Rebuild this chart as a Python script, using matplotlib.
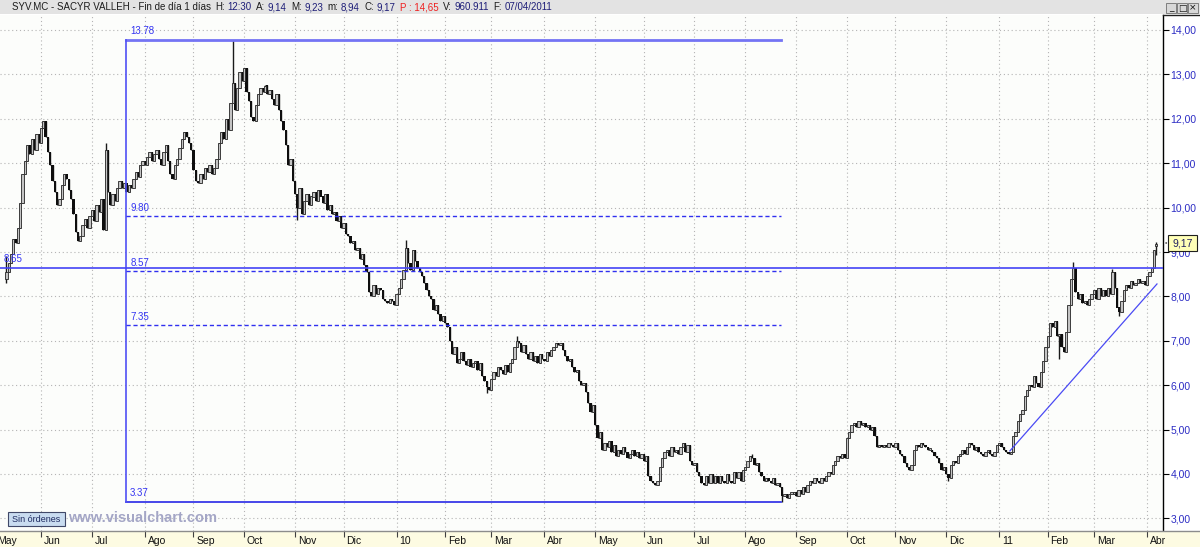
"""
SYV.MC (Sacyr Vallehermoso) daily candles, May 2009 - Apr 2011
Visual Chart style screen: Fibonacci box, support line and trend line
"""

import numpy as np
import pandas as pd
import matplotlib
matplotlib.use("Agg")
import matplotlib.pyplot as plt
from matplotlib.patches import Rectangle
from matplotlib.lines import Line2D

# ---- data -------------------------------------------------------------
START_DATE = "2009-05-11"
FIRST_OPEN = 8.40
LAST_OPEN = 9.14

CLOSE = [
    8.55, 8.75, 8.95, 9.30, 9.20, 9.55, 10.10, 10.75, 11.05, 11.40,
    11.20, 11.55, 11.30, 11.65, 11.45, 11.80, 11.95, 11.60, 11.25, 10.95,
    10.60, 10.35, 10.05, 10.20, 10.50, 10.75, 10.65, 10.40, 10.20, 9.85,
    9.45, 9.25, 9.35, 9.60, 9.75, 9.55, 9.80, 9.95, 9.70, 10.05,
    9.90, 10.20, 9.50, 11.30, 10.35, 10.05, 10.30, 10.15, 10.45, 10.60,
    10.45, 10.55, 10.35, 10.50, 10.45, 10.65, 10.80, 10.70, 10.95, 11.05,
    10.95, 11.15, 11.25, 11.05, 11.20, 11.30, 11.10, 10.95, 11.25, 11.40,
    11.05, 10.75, 10.65, 10.95, 11.10, 11.35, 11.55, 11.70, 11.60, 11.45,
    11.30, 10.85, 10.60, 10.55, 10.75, 10.65, 10.90, 10.80, 10.95, 10.75,
    10.90, 11.10, 11.45, 11.70, 11.55, 12.00, 11.75, 12.35, 12.80, 12.20,
    12.70, 13.05, 12.85, 13.15, 12.60, 12.40, 12.05, 11.95, 12.30, 12.55,
    12.70, 12.60, 12.75, 12.55, 12.65, 12.45, 12.30, 12.55, 12.20, 11.95,
    11.75, 11.40, 10.95, 11.10, 10.60, 10.30, 10.00, 10.45, 9.85, 10.15,
    10.30, 10.05, 10.25, 10.35, 10.15, 10.40, 10.25, 10.10, 10.30, 9.95,
    10.05, 9.85, 9.90, 9.70, 9.80, 9.55, 9.65, 9.40, 9.35, 9.20,
    9.25, 9.05, 9.10, 8.85, 8.95, 8.70, 8.55, 8.10, 8.00, 8.25,
    8.05, 8.20, 8.15, 7.95, 7.90, 7.85, 7.95, 7.90, 7.80, 8.05,
    8.20, 8.40, 8.60, 9.10, 8.75, 8.60, 9.05, 8.80, 8.65, 8.55,
    8.45, 8.30, 8.15, 8.00, 7.95, 7.70, 7.80, 7.60, 7.45, 7.55,
    7.40, 7.30, 7.00, 6.70, 6.85, 6.50, 6.60, 6.75, 6.55, 6.45,
    6.60, 6.40, 6.50, 6.55, 6.35, 6.50, 6.20, 6.10, 5.95, 5.90,
    6.15, 6.30, 6.20, 6.40, 6.35, 6.25, 6.45, 6.30, 6.50, 6.60,
    6.85, 7.00, 6.95, 6.75, 6.90, 6.70, 6.60, 6.75, 6.55, 6.65,
    6.50, 6.70, 6.60, 6.55, 6.75, 6.65, 6.80, 6.85, 6.95, 6.90,
    6.95, 6.80, 6.65, 6.55, 6.60, 6.40, 6.30, 6.35, 6.10, 6.00,
    6.05, 5.85, 5.60, 5.40, 5.55, 5.10, 4.80, 4.95, 4.55, 4.70,
    4.60, 4.75, 4.50, 4.65, 4.40, 4.55, 4.45, 4.60, 4.50, 4.35,
    4.45, 4.55, 4.40, 4.50, 4.35, 4.45, 4.30, 4.40, 3.95, 3.85,
    3.80, 3.75, 3.85, 4.15, 4.35, 4.50, 4.55, 4.40, 4.60, 4.50,
    4.55, 4.45, 4.60, 4.70, 4.50, 4.65, 4.30, 4.20, 4.25, 4.05,
    3.95, 3.80, 3.75, 3.95, 3.80, 4.00, 3.80, 3.95, 3.80, 3.95,
    3.85, 3.80, 4.00, 3.85, 3.80, 4.05, 3.90, 4.05, 3.85, 4.10,
    4.15, 4.30, 4.40, 4.35, 4.20, 4.25, 4.05, 3.95, 3.85, 3.90,
    3.85, 3.80, 3.90, 3.75, 3.80, 3.70, 3.50, 3.55, 3.45, 3.55,
    3.55, 3.60, 3.50, 3.65, 3.55, 3.70, 3.60, 3.75, 3.85, 3.80,
    3.90, 3.85, 3.80, 3.90, 3.85, 3.95, 4.05, 4.00, 4.20, 4.30,
    4.40, 4.35, 4.45, 4.35, 4.80, 4.95, 5.10, 5.15, 5.05, 5.20,
    5.10, 5.15, 5.05, 5.10, 5.00, 5.05, 4.85, 4.60, 4.65, 4.60,
    4.65, 4.60, 4.70, 4.65, 4.60, 4.70, 4.55, 4.45, 4.40, 4.25,
    4.15, 4.10, 4.20, 4.55, 4.65, 4.60, 4.70, 4.65, 4.60, 4.55,
    4.55, 4.50, 4.40, 4.35, 4.25, 4.10, 4.15, 4.00, 3.90, 4.20,
    4.30, 4.25, 4.40, 4.45, 4.55, 4.45, 4.60, 4.70, 4.65, 4.55,
    4.60, 4.50, 4.45, 4.40, 4.50, 4.55, 4.45, 4.40, 4.50, 4.65,
    4.70, 4.60, 4.55, 4.50, 4.45, 4.50, 4.85, 4.95, 5.20, 5.35,
    5.45, 5.75, 5.90, 6.00, 5.95, 6.20, 6.05, 5.95, 6.30, 6.55,
    6.85, 7.10, 7.40, 7.30, 7.45, 7.10, 7.15, 6.85, 6.75, 7.20,
    7.80, 8.40, 8.65, 8.10, 7.95, 8.05, 7.85, 7.90, 7.80, 7.95,
    8.05, 8.15, 7.95, 8.20, 8.00, 8.15, 8.00, 8.20, 8.05, 8.55,
    8.20, 7.75, 7.65, 7.90, 8.15, 8.25, 8.20, 8.35, 8.25, 8.30,
    8.40, 8.30, 8.35, 8.25, 8.45, 8.55, 8.65, 9.05, 9.17,
]

# long wicks (bar number, price)
WICK_HIGH_BAR = [0, 43, 98, 173, 221, 323, 462, 479, 498]
WICK_HIGH = [8.90, 11.45, 13.78, 9.28, 7.10, 4.45, 8.78, 8.62, 9.23]
WICK_LOW_BAR = [0, 126, 208, 336, 408, 456, 482, 498]
WICK_LOW = [8.30, 9.72, 5.82, 3.37, 3.85, 6.60, 7.55, 8.94]

MONTH_LABELS = ["Jun", "Jul", "Ago", "Sep", "Oct", "Nov", "Dic", "10", "Feb", "Mar", "Abr",
                "May", "Jun", "Jul", "Ago", "Sep", "Oct", "Nov", "Dic", "11", "Feb", "Mar", "Abr"]
PRICE_TICKS = [3, 4, 5, 6, 7, 8, 9, 10, 11, 12, 13, 14]

# drawing objects
FIB_BARS = [51.8, 335.5]
FIB_HIGH, FIB_LOW = 13.78, 3.37
FIB_LEVELS = [9.80, 8.57, 7.35]
SUPPORT = 8.65
TREND_BARS = [434.6, 498.3]
TREND_PRICES = [4.52, 8.28]

# header line: (text, kind) -> kind 0 label, 1 value, 2 red
HEADER = [("SYV.MC - SACYR VALLEH - Fin de día 1 días", 0),
          ("H:", 0), ("12:30", 1), ("A:", 0), ("9,14", 1), ("M:", 0), ("9,23", 1),
          ("m:", 0), ("8,94", 1), ("C:", 0), ("9,17", 1), ("P : 14,65", 2),
          ("V:", 0), ("960.911", 1), ("F:", 0), ("07/04/2011", 1)]
HEADER_COLORS = ["#1c1c1c", "#1e1e78", "#ee2020"]

# ---- layout (pixels) --------------------------------------------------
W, H = 1200, 547
PLOT_R, PLOT_T, PLOT_B = 1163, 15, 531
PX0, PX_BAR = 6.4, 2.309
Y14, PX_UNIT = 30.0, 44.4

BLUE = "#3434f2"
plt.rcParams["font.family"] = ["Liberation Sans", "DejaVu Sans"]


def fx(px):
    return px / W


def fy(py):
    return 1 - py / H


def bar_at(px):
    return (px - PX0) / PX_BAR


def val_at(py):
    return 14 - (py - Y14) / PX_UNIT


close = np.array(CLOSE)
n = len(close)
x = np.arange(n)
dates = pd.bdate_range(START_DATE, periods=n)
opens = np.r_[FIRST_OPEN, close[:-1]]
opens[-1] = LAST_OPEN
highs = np.maximum(opens, close)
lows = np.minimum(opens, close)
highs[WICK_HIGH_BAR] = WICK_HIGH
lows[WICK_LOW_BAR] = WICK_LOW

month = dates.to_period("M")
month_idx = np.where(month[1:] != month[:-1])[0] + 1

fig = plt.figure(figsize=(W / 100, H / 100), dpi=100)
fig.patch.set_facecolor("white")

# ---- main price panel -------------------------------------------------
ax = fig.add_axes([0, fy(PLOT_B), fx(PLOT_R), (PLOT_B - PLOT_T) / H])
ax.set_facecolor("#fcfdfb")
ax.set_xlim(bar_at(0), bar_at(PLOT_R))
ax.set_ylim(val_at(PLOT_B), val_at(PLOT_T))

ax.set_xticks(month_idx)
ax.set_yticks(PRICE_TICKS)
ax.set_yticklabels([f"{v},00" for v in PRICE_TICKS])
ax.grid(True, color="#b4b4b4", linestyle=(0, (1, 2.5)), linewidth=0.8)
ax.set_axisbelow(True)
ax.tick_params(axis="x", length=0, labelbottom=False)
ax.tick_params(axis="y", left=False, labelleft=False, right=True, labelright=True,
               length=4, width=0.8, pad=1.5, labelsize=7.5, labelcolor="#2c2cc4")
for side in ["top", "left", "bottom"]:
    ax.spines[side].set_visible(False)
ax.spines["right"].set_linewidth(1.0)

up = close >= opens
body_lo = np.minimum(opens, close)
body_h = np.maximum(np.abs(close - opens), 0.04)
ax.vlines(x, lows, highs, color="#1a1a1a", linewidth=1.0, zorder=2)
ax.bar(x[~up], body_h[~up], bottom=body_lo[~up], width=1.0, color="#0e0e0e",
       linewidth=0, zorder=3)
ax.bar(x[up], body_h[up], bottom=body_lo[up], width=1.0, facecolor="#c4c4c4",
       edgecolor="#262626", linewidth=0.6, zorder=3)

# fibonacci box
f0, f1 = FIB_BARS
ax.plot([f0, f1], [FIB_HIGH, FIB_HIGH], color="#7474f4", linewidth=2.0, zorder=4)
ax.plot([f0, f1], [FIB_LOW, FIB_LOW], color="#3838e8", linewidth=1.3, zorder=4)
ax.plot([f0, f0], [FIB_LOW, FIB_HIGH], color="#5050f4", linewidth=1.2, zorder=4)
for lvl in FIB_LEVELS:
    ax.plot([f0, f1], [lvl, lvl], color="#3030f0", linewidth=1.0,
            linestyle=(0, (3, 2)), zorder=4)
for lvl in [FIB_HIGH] + FIB_LEVELS + [FIB_LOW]:
    ax.annotate(f"{lvl:.2f}", (f0, lvl), xytext=(3, 2.5), textcoords="offset points",
                fontsize=7, color=BLUE, va="bottom", zorder=5)

ax.axhline(SUPPORT, color="#4444f6", linewidth=1.2, zorder=4)
ax.annotate(f"{SUPPORT:.2f}", (bar_at(4), SUPPORT), xytext=(0, 2.5),
            textcoords="offset points", fontsize=7, color=BLUE, va="bottom", zorder=5)
ax.plot(TREND_BARS, TREND_PRICES, color="#4a4af4", linewidth=0.9, zorder=4)

# ---- bottom month strip -------------------------------------------------
sx = fig.add_axes([0, 0, 1, (H - PLOT_B) / H])
sx.set_facecolor("#fdfbe2")
sx.set_xlim(bar_at(0), bar_at(W))
sx.set_ylim(0, 1)
sx.set_xticks([])
sx.set_yticks([])
for side in ["left", "right", "bottom"]:
    sx.spines[side].set_visible(False)
sx.spines["top"].set_color("#8c8c8c")
sx.spines["top"].set_linewidth(1.0)
sx.vlines(month_idx, 0.62, 1.0, color="#404040", linewidth=0.8)
for i, lab in zip(month_idx, MONTH_LABELS):
    sx.text(i + 1.2, 0.38, lab, fontsize=7.5, va="center", ha="left", color="#111111")
sx.text(bar_at(-3), 0.38, "May", fontsize=7.5, va="center", ha="left",
        color="#111111", clip_on=True)

# ---- header bar ---------------------------------------------------------
fig.patches.append(Rectangle((0, fy(14)), 1, 14 / H, transform=fig.transFigure,
                             facecolor="#e3e3e3", edgecolor="none", zorder=0))
renderer = fig.canvas.get_renderer()
cur = 12.0
for k, (txt, kind) in enumerate(HEADER):
    t = fig.text(fx(cur), fy(7.5), txt, fontsize=7, color=HEADER_COLORS[kind],
                 va="center")
    cur += t.get_window_extent(renderer).width
    nxt = HEADER[k + 1][1] if k + 1 < len(HEADER) else 0
    cur += 2.5 if nxt == 1 else 4.5

for k, glyph in enumerate(["_", "□", "×"]):
    bx = 1166 + k * 11
    fig.patches.append(Rectangle((fx(bx), fy(13)), 10 / W, 10 / H,
                                 transform=fig.transFigure, facecolor="#d8d8d8",
                                 edgecolor="#707070", linewidth=0.6))
    fig.text(fx(bx + 5), fy(8), glyph, fontsize=6.5, ha="center", va="center",
             color="#111111", family="DejaVu Sans")

# right panel frame line
fig.lines.append(Line2D([fx(PLOT_R), 1], [fy(PLOT_T), fy(PLOT_T)],
                        transform=fig.transFigure, color="#202020", linewidth=1.0))

# last price box
fig.patches.append(Rectangle((fx(1168), fy(251)), 29 / W, 16 / H,
                             transform=fig.transFigure, facecolor="#ffffb8",
                             edgecolor="#202020", linewidth=0.8, zorder=6))
fig.text(fx(1182.5), fy(243), "9,17", fontsize=7.5, ha="center", va="center",
         color="#1e1e60", zorder=7)
fig.text(fx(1165.5), fy(243), "•", fontsize=5, ha="center", va="center",
         color="#606060", zorder=7)

# order button and watermark
fig.patches.append(Rectangle((fx(8), fy(526)), 57 / W, 14 / H, transform=fig.transFigure,
                             facecolor="#c9dcf0", edgecolor="#404868", linewidth=0.8,
                             zorder=6))
fig.text(fx(36.5), fy(519), "Sin órdenes", fontsize=6.5, ha="center", va="center",
         color="#1e2a60", zorder=7)
fig.text(fx(68), fy(518), "www.visualchart.com", fontsize=10.5, fontweight="bold",
         ha="left", va="center", color="#a4a6c6", zorder=7)

fig.savefig("out.png", dpi=100)
